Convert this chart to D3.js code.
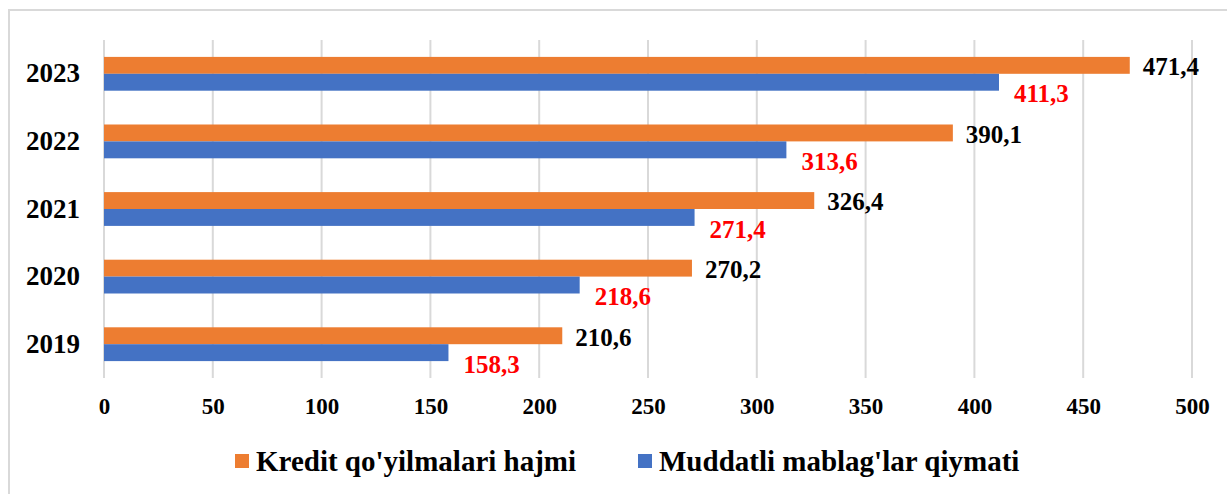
<!DOCTYPE html>
<meta charset="utf-8">
<style>
body { margin: 0; background: #fff; }
text { font-family: "Liberation Serif", "Times New Roman", serif; font-weight: bold; }
</style>
<body>
<div id="chart"></div>
</body>
<script src="https://d3js.org/d3.v7.min.js"></script>
<script>

var years = ["2023", "2022", "2021", "2020", "2019"];
var kredit = [471.4, 390.1, 326.4, 270.2, 210.6];
var muddatli = [411.3, 313.6, 271.4, 218.6, 158.3];
var seriesNames = ["Kredit qo'yilmalari hajmi", "Muddatli mablag'lar qiymati"];
var ticks = [0, 50, 100, 150, 200, 250, 300, 350, 400, 450, 500];

var width = 1227, height = 494;
var margin = {top: 40, right: 35, bottom: 116, left: 104};
var colors = ["#ed7d31", "#4472c4"];
var serif = "'Liberation Serif', 'Times New Roman', serif";

var svg = d3.select("#chart").append("svg")
    .attr("width", width)
    .attr("height", height);

// outer frame
svg.append("rect")
    .attr("x", 9).attr("y", 10)
    .attr("width", width + 20).attr("height", height + 20)
    .attr("fill", "none")
    .attr("stroke", "#d9d9d9")
    .attr("stroke-width", 2);

var x = d3.scaleLinear([0, 500], [margin.left, width - margin.right]);
var y = d3.scaleBand(years, [margin.top, height - margin.bottom]).paddingInner(0.5).paddingOuter(0.25);
var sub = d3.scaleBand([0, 1], [0, y.bandwidth()]);

// gridlines
svg.append("g")
  .selectAll("line")
  .data(ticks)
  .join("line")
    .attr("x1", d => x(d)).attr("x2", d => x(d))
    .attr("y1", margin.top).attr("y2", height - margin.bottom)
    .attr("stroke", "#d9d9d9")
    .attr("stroke-width", 2);

// x axis labels
var xAxis = svg.append("g")
    .attr("transform", `translate(0,${height - margin.bottom})`)
    .call(d3.axisBottom(x).tickValues(ticks).tickSize(0).tickPadding(20));
xAxis.select(".domain").remove();
xAxis.selectAll("text")
    .style("font-family", serif)
    .style("font-weight", "bold")
    .style("font-size", "23px")
    .attr("fill", "#000");

// y axis labels
var yAxis = svg.append("g")
    .attr("transform", `translate(${margin.left},0)`)
    .call(d3.axisLeft(y).tickSize(0).tickPadding(24));
yAxis.select(".domain").remove();
yAxis.selectAll("text")
    .style("font-family", serif)
    .style("font-weight", "bold")
    .style("font-size", "27px")
    .attr("fill", "#000");

var rows = years.map((yr, i) => ({year: yr, values: [kredit[i], muddatli[i]]}));

var g = svg.append("g").selectAll("g")
  .data(rows)
  .join("g")
    .attr("transform", d => `translate(0,${y(d.year)})`);

g.selectAll("rect")
  .data(d => d.values)
  .join("rect")
    .attr("x", x(0))
    .attr("y", (d, i) => sub(i))
    .attr("width", d => x(d) - x(0))
    .attr("height", sub.bandwidth())
    .attr("fill", (d, i) => colors[i]);

// value labels
g.selectAll("text.val")
  .data(d => d.values)
  .join("text")
    .attr("class", "val")
    .attr("x", (d, i) => x(d) + (i == 0 ? 13 : 15))
    .attr("y", (d, i) => i == 0 ? sub(0) + sub.bandwidth() / 2 + 1 : sub(1) + sub.bandwidth() + 3)
    .attr("dy", "0.35em")
    .attr("fill", (d, i) => i == 0 ? "#000" : "#ff0000")
    .style("font-family", serif)
    .style("font-size", "25px")
    .text(d => d3.format(".1f")(d).replace(".", ","));

// legend
var legendX = [235, 638];
var leg = svg.append("g").selectAll("g")
  .data(seriesNames)
  .join("g")
    .attr("transform", (d, i) => `translate(${legendX[i]},461)`);
leg.append("rect")
    .attr("x", 0).attr("y", -7)
    .attr("width", 14).attr("height", 14)
    .attr("fill", (d, i) => colors[i]);
leg.append("text")
    .attr("x", 21)
    .attr("dy", "0.35em")
    .style("font-family", serif)
    .style("font-size", "29px")
    .attr("fill", "#000")
    .text(d => d);

</script>
